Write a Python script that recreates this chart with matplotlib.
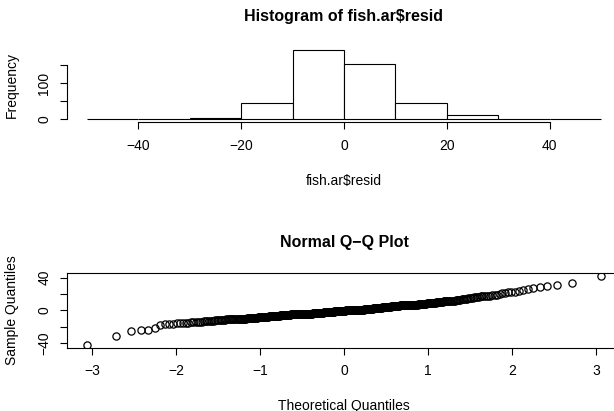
import numpy as np
import matplotlib
matplotlib.use("Agg")
import matplotlib.pyplot as plt
from statistics import NormalDist

plt.rcParams['font.family'] = ['Liberation Sans', 'DejaVu Sans']

# histogram of the residuals (breaks of 10, counts)
breaks = np.arange(-50, 51, 10)
hist_counts = [1, 1, 4, 44, 192, 154, 44, 11, 2, 1]

# sorted residuals from the Q-Q plot, as value -> number of points
qq_values = [-42, -31, -25, -24, -21, -18, -17, -16, -15, -14, -13, -12, -11,
             -10, -9, -8, -7, -6, -5, -4, -3, -2, -1, 0, 1, 2, 3, 4, 5, 6,
             7, 8, 9, 10, 11, 12, 13, 14, 15, 16, 17, 18, 19, 20, 21, 22,
             23, 24, 25, 26, 27, 28, 30, 31, 33, 42]
qq_counts = [1, 1, 1, 2, 1, 1, 3, 2, 3, 6, 7, 8, 9,
             11, 13, 15, 17, 18, 20, 22, 22, 23, 24, 21, 19, 18, 18, 17, 16, 15,
             14, 12, 12, 8, 6, 6, 5, 5, 4, 4, 3, 3, 3, 1, 2, 2,
             1, 1, 1, 1, 1, 1, 1, 1, 1, 1]

W, H = 614, 411


def box(l, t, r, b):
    # pixel box (from top-left) -> figure fraction
    return [l / W, 1 - b / H, (r - l) / W, (b - t) / H]


def px(x, y):
    return x / W, 1 - y / H


fig = plt.figure(figsize=(W / 100, H / 100), dpi=100)

# ---- histogram ----
ax1 = fig.add_axes(box(66.5, 47.4, 621.5, 122.1))
ax1.bar(breaks[:-1], hist_counts, width=10, align='edge',
        facecolor='white', edgecolor='black', linewidth=0.8)
top = max(hist_counts)
ax1.set_xlim(breaks[0] - 0.04 * (breaks[-1] - breaks[0]),
             breaks[-1] + 0.04 * (breaks[-1] - breaks[0]))
ax1.set_ylim(-0.04 * top, 1.04 * top)
ax1.spines['top'].set_visible(False)
ax1.spines['right'].set_visible(False)
ax1.spines['bottom'].set_bounds(-40, 40)
ax1.spines['left'].set_bounds(0, 150)
ax1.set_xticks([-40, -20, 0, 20, 40])
ax1.set_yticks([0, 50, 100, 150])
ax1.set_yticklabels(['0', '', '100', ''], rotation=90, va='center')

# ---- normal Q-Q plot ----
resid = np.repeat(qq_values, qq_counts).astype(float)
n = len(resid)
nd = NormalDist()
theo = np.array([nd.inv_cdf((i - 0.5) / n) for i in range(1, n + 1)])

ax2 = fig.add_axes(box(66.5, 273.2, 621.5, 347.5))
ax2.plot(theo, resid, 'o', markersize=5.2, markerfacecolor='none',
         markeredgecolor='black', markeredgewidth=0.9)
xr = theo.max() - theo.min()
yr = resid.max() - resid.min()
ax2.set_xlim(theo.min() - 0.04 * xr, theo.max() + 0.04 * xr)
ax2.set_ylim(resid.min() - 0.04 * yr, resid.max() + 0.04 * yr)
ax2.set_xticks([-3, -2, -1, 0, 1, 2, 3])
ax2.set_yticks([-40, -20, 0, 20, 40])
ax2.set_yticklabels(['\u221240', '', '0', '', '40'], rotation=90, va='center')

for ax in (ax1, ax2):
    for s in ax.spines.values():
        s.set_linewidth(0.8)
    ax.tick_params(direction='out', length=5, width=0.8, labelsize=10)
    ax.tick_params(axis='x', pad=7)
    ax.tick_params(axis='y', pad=6)

# titles and axis labels
fig.text(*px(344, 17), r'Histogram of fish.ar\$resid', ha='center',
         va='center', fontsize=11.5, fontweight='bold')
fig.text(*px(344, 184.5), r'fish.ar\$resid', ha='center', va='baseline',
         fontsize=10)
fig.text(*px(12, 85), 'Frequency', ha='center', va='center',
         rotation=90, fontsize=10)

fig.text(*px(344, 242), 'Normal Q\u2212Q Plot', ha='center', va='center',
         fontsize=11.5, fontweight='bold')
fig.text(*px(344, 409.5), 'Theoretical Quantiles', ha='center',
         va='baseline', fontsize=10)
fig.text(*px(12, 310), 'Sample Quantiles', ha='center', va='center',
         rotation=90, fontsize=10)

fig.savefig('out.png', dpi=100)
